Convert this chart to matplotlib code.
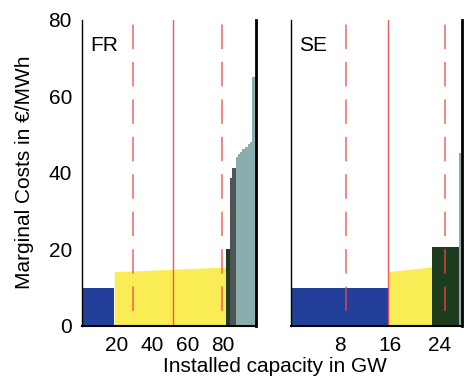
import matplotlib
matplotlib.use("Agg")
import matplotlib.pyplot as plt

plt.rcParams['font.family'] = ['Liberation Sans', 'DejaVu Sans']

# merit order data: capacity edges (GW) and marginal costs (EUR/MWh)
# FR
fr_hydro_edges = [0, 18.5]
fr_hydro_costs = [10]
fr_nuclear_cap = [18.5, 81.8]
fr_nuclear_costs = [14.2, 15.4]
fr_coal_edges = [81.8, 84.0]
fr_coal_costs = [20]
fr_lignite_edges = [84.0, 85.3, 87.3]
fr_lignite_costs = [38.7, 41.2]
fr_gas_edges = [87.3, 88.5, 89.7, 91.0, 92.5, 94.0, 95.3, 96.3, 98.8]
fr_gas_costs = [44.3, 45.0, 45.6, 46.3, 46.9, 47.5, 48.2, 65.2]
fr_demand_min, fr_demand_mean, fr_demand_max = 29.2, 51.7, 79.8

# SE
se_hydro_edges = [0, 15.8]
se_hydro_costs = [10]
se_nuclear_cap = [15.8, 22.9]
se_nuclear_costs = [14.2, 15.5]
se_coal_edges = [22.9, 27.1]
se_coal_costs = [20.7]
se_gas_edges = [27.1, 27.6]
se_gas_costs = [45.1]
se_demand_min, se_demand_mean, se_demand_max = 8.9, 15.7, 24.9

fr_ticks = [20, 40, 60, 80]
se_ticks = [8, 16, 24]

c_hydro = '#22409a'
c_nuc = '#f9ec55'
c_coal = '#1e3c1e'
c_lig = '#4f5454'
c_gas = '#88afae'
c_red = '#f04848'

fig = plt.figure(figsize=(4.65, 3.76), dpi=100)
ax1 = fig.add_axes([0.1757, 0.133, 0.3748, 0.814])
ax2 = fig.add_axes([0.625, 0.133, 0.3677, 0.814])


def draw_panel(ax, hydro, nuc, coal, gas, lig, demand, ticks, xmax, name):
    ax.stairs(hydro[1], hydro[0], fill=True, color=c_hydro, lw=0)
    ax.fill_between(nuc[0], nuc[1], 0, color=c_nuc, lw=0)
    ax.stairs(coal[1], coal[0], fill=True, color=c_coal, lw=0)
    if lig is not None:
        ax.stairs(lig[1], lig[0], fill=True, color=c_lig, lw=0)
    ax.stairs(gas[1], gas[0], fill=True, color=c_gas, lw=0)

    dmin, dmean, dmax = demand
    for xv in (dmin, dmax):
        ax.plot([xv, xv], [4, 80], color=c_red, lw=1.1, alpha=0.85,
                dashes=(16, 8.5))
    ax.plot([dmean, dmean], [0, 80], color=c_red, lw=1.0, alpha=0.9)

    ax.set_xlim(0, xmax)
    ax.set_ylim(0, 80)
    ax.set_xticks(ticks)
    ax.tick_params(length=0, labelsize=15, pad=7)
    ax.spines['top'].set_visible(False)
    ax.spines['left'].set_linewidth(1.0)
    ax.spines['right'].set_linewidth(2.0)
    ax.spines['bottom'].set_linewidth(1.5)
    for s in ax.spines.values():
        s.set_color('black')
    ax.text(0.05, 0.918, name, transform=ax.transAxes, fontsize=15,
            va='center', ha='left')


draw_panel(ax1, (fr_hydro_edges, fr_hydro_costs), (fr_nuclear_cap, fr_nuclear_costs),
           (fr_coal_edges, fr_coal_costs), (fr_gas_edges, fr_gas_costs),
           (fr_lignite_edges, fr_lignite_costs),
           (fr_demand_min, fr_demand_mean, fr_demand_max), fr_ticks, 98.8, 'FR')
draw_panel(ax2, (se_hydro_edges, se_hydro_costs), (se_nuclear_cap, se_nuclear_costs),
           (se_coal_edges, se_coal_costs), (se_gas_edges, se_gas_costs), None,
           (se_demand_min, se_demand_mean, se_demand_max), se_ticks, 27.6, 'SE')

ax1.set_yticks([0, 20, 40, 60, 80])
ax2.set_yticks([])

fig.text(25 / 465, 1 - 172 / 376, 'Marginal Costs in €/MWh', rotation=90,
         fontsize=15, ha='center', va='center')
fig.text(275 / 465, 1 - 366 / 376, 'Installed capacity in GW',
         fontsize=15, ha='center', va='center')

fig.savefig('out.png', dpi=100)
